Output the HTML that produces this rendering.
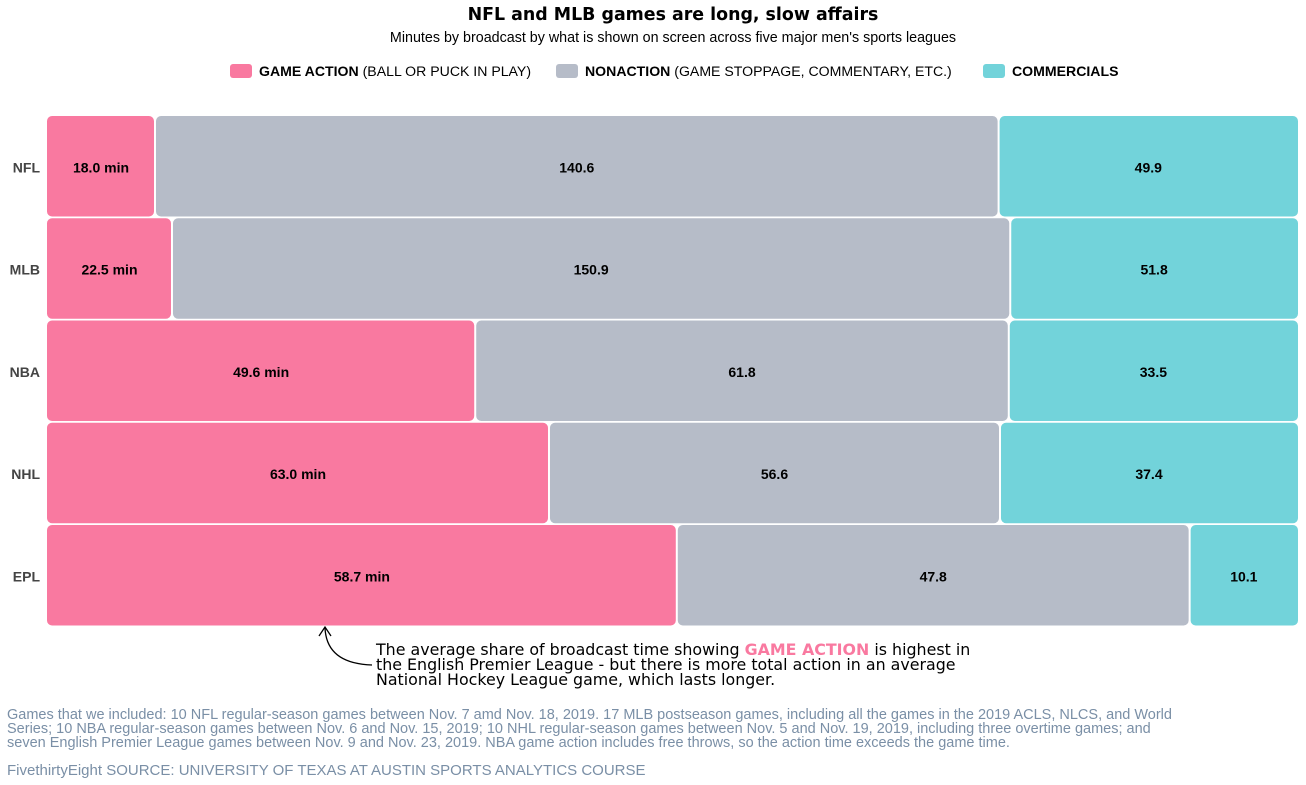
<!DOCTYPE html>
<html><head><meta charset="utf-8"><style>
body{margin:0;background:#fff;font-family:"Liberation Sans",sans-serif}
svg{display:block}
</style></head><body>
<svg id="c" width="1306" height="785" xmlns="http://www.w3.org/2000/svg">
<text x="673" y="20" text-anchor="middle" font-size="17.4" font-weight="bold" font-family="DejaVu Sans, sans-serif" fill="#000">NFL and MLB games are long, slow affairs</text>
<text x="673" y="42" text-anchor="middle" font-size="14.3" fill="#000">Minutes by broadcast by what is shown on screen across five major men's sports leagues</text>
<g font-size="14.1">
<rect x="230" y="64" width="22" height="14" rx="3" fill="#f979a0"/>
<text x="259" y="76"><tspan font-weight="bold">GAME ACTION</tspan> (BALL OR PUCK IN PLAY)</text>
<rect x="556" y="64" width="22" height="14" rx="3" fill="#b6bcc8"/>
<text x="585" y="76"><tspan font-weight="bold">NONACTION</tspan> (GAME STOPPAGE, COMMENTARY, ETC.)</text>
<rect x="983" y="64" width="22" height="14" rx="3" fill="#72d3da"/>
<text x="1012" y="76" font-weight="bold">COMMERCIALS</text>
</g>
<g id="bars"></g>
<path d="M325,628 C326,650 340,664 372,665" fill="none" stroke="#000" stroke-width="1.3"/>
<path d="M319,636 L325,627 L331,636" fill="none" stroke="#000" stroke-width="1.3"/>
<g font-size="15.85" fill="#000" font-family="DejaVu Sans, sans-serif">
<text x="376" y="655">The average share of broadcast time showing <tspan fill="#f979a0" font-weight="bold">GAME ACTION</tspan> is highest in</text>
<text x="376" y="670">the English Premier League - but there is more total action in an average</text>
<text x="376" y="685">National Hockey League game, which lasts longer.</text>
</g>
<g font-size="14.5" fill="#7a8fa6">
<text x="7" y="719">Games that we included: 10 NFL regular-season games between Nov. 7 amd Nov. 18, 2019. 17 MLB postseason games, including all the games in the 2019 ACLS, NLCS, and World</text>
<text x="7" y="733">Series; 10 NBA regular-season games between Nov. 6 and Nov. 15, 2019; 10 NHL regular-season games between Nov. 5 and Nov. 19, 2019, including three overtime games; and</text>
<text x="7" y="747">seven English Premier League games between Nov. 9 and Nov. 23, 2019. NBA game action includes free throws, so the action time exceeds the game time.</text>
<text x="7" y="775" font-size="15">FivethirtyEight SOURCE: UNIVERSITY OF TEXAS AT AUSTIN SPORTS ANALYTICS COURSE</text>
</g>
</svg>
<script>
const leagues=["NFL","MLB","NBA","NHL","EPL"];
const action=[18.0,22.5,49.6,63.0,58.7];
const nonaction=[140.6,150.9,61.8,56.6,47.8];
const commercials=[49.9,51.8,33.5,37.4,10.1];
const NS="http://www.w3.org/2000/svg";
const g=document.getElementById("bars");
const x0=47,x1=1298,y0=116,rowH=102.25,barH=100.5;
const xs=f=>x0+f*(x1-x0);
const ys=i=>y0+i*rowH;
const cols=["#f979a0","#b6bcc8","#72d3da"];
const names=["action","nonaction","commercials"];
leagues.forEach((lg,i)=>{
  const vals=[action[i],nonaction[i],commercials[i]];
  const tot=vals[0]+vals[1]+vals[2];
  let acc=0;
  const t=document.createElementNS(NS,"text");
  t.setAttribute("x",40);t.setAttribute("y",ys(i)+barH/2+6);
  t.setAttribute("text-anchor","end");t.setAttribute("font-size","14");
  t.setAttribute("font-weight","bold");t.setAttribute("fill","#444");
  t.textContent=lg;
  
  
  g.appendChild(t);
  vals.forEach((v,j)=>{
    const a=xs(acc/tot),b=xs((acc+v)/tot);acc+=v;
    const r=document.createElementNS(NS,"rect");
    r.setAttribute("x",a+(j?1:0));r.setAttribute("y",ys(i));
    r.setAttribute("width",b-a-(j?1:0)-(j<2?1:0));r.setAttribute("height",barH);
    r.setAttribute("rx",5);r.setAttribute("fill",cols[j]);
    
    
    g.appendChild(r);
    const l=document.createElementNS(NS,"text");
    l.setAttribute("x",(a+b)/2);l.setAttribute("y",ys(i)+barH/2+6);
    l.setAttribute("text-anchor","middle");l.setAttribute("font-size","14");
    l.setAttribute("font-weight","bold");
    l.textContent=v.toFixed(1)+(j===0?" min":"");
    
    
    g.appendChild(l);
  });
});
</script>
</body></html>
